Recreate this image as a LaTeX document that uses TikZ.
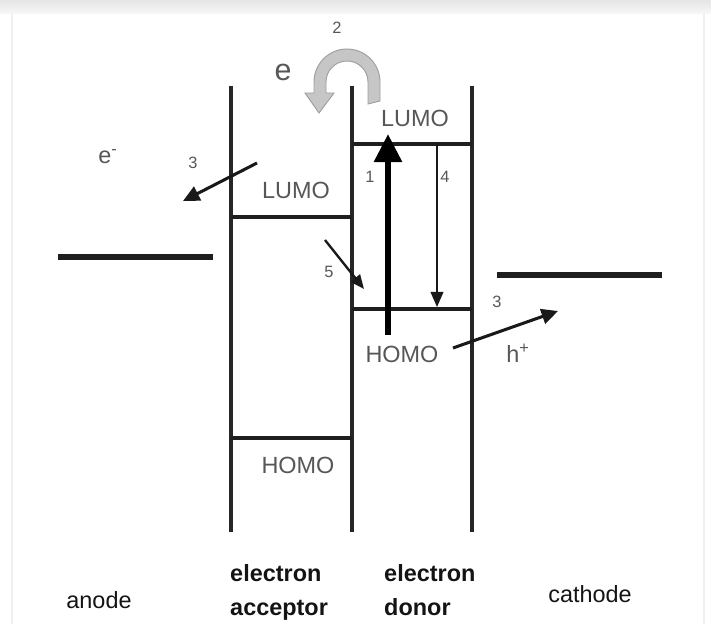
\documentclass[tikz,border=0pt]{standalone}
\usepackage{fontspec}
\setmainfont{Liberation Sans}
\usetikzlibrary{positioning, arrows.meta}

\begin{document}
\begin{tikzpicture}[
		x=0.03cm, y=-0.03cm,
		every node/.style={inner sep=0pt, text=black!66, font=\fontsize{20}{29}\selectfont},
		wall/.style={line width=2.8pt, draw=black!85},
		level/.style={line width=2.8pt, draw=black!88},
		metal/.style={line width=4.4pt, draw=black!88},
		arrow/.style={-{Triangle[length=14pt, width=13pt]}, line width=2.6pt, draw=black!90},
		num/.style={font=\fontsize{14}{16}\selectfont},
		sidename/.style={text=black!92, align=left}
	]
	\useasboundingbox (0,0) rectangle (711,624);

	% Frame
	\shade[top color=gray!20, bottom color=gray!6] (0,0) rectangle (711,14);
	\draw[gray!12, line width=1pt] (12,14) -- (12,624) (704,14) -- (704,624);

	% Walls and levels
	\draw[wall] (231,86) -- (231,532);
	\draw[wall] (352,86) -- (352,532);
	\draw[wall] (472,86) -- (472,532);
	\draw[level] (231,217) -- (352,217);
	\draw[level] (231,438) -- (352,438);
	\draw[level] (352,144) -- (472,144);
	\draw[level] (352,309) -- (472,309);
	\draw[metal] (58,257) -- (213,257);
	\draw[metal] (497,275) -- (662,275);

	% Nodes
	\node (accLumo) at (296,190) {LUMO};
	\node (accHomo) at (298,465) {HOMO};
	\node (donLumo) at (415,118) {LUMO};
	\node (donHomo) at (402,354) {HOMO};
	\node (elec) at (108,157) {e\textsuperscript{-}};
	\node[font=\fontsize{26}{28}\selectfont] (eTop) at (283,72) {e};
	\node (hole) at (518,353) {h\textsuperscript{+}};
	\node[num] (n1) at (370,177) {1};
	\node[num] (n2) at (337,28) {2};
	\node[num] (n3l) at (193,163) {3};
	\node[num] (n3r) at (497,302) {3};
	\node[num] (n4) at (445,177) {4};
	\node[num] (n5) at (329,272) {5};
	\node[sidename] (anode) at (99,600) {anode};
	\node[sidename] (cathode) at (590,594) {cathode};
	\node[sidename, font=\bfseries\fontsize{20}{29}\selectfont, anchor=north west] (acceptor) at (230,564) {electron\\acceptor};
	\node[sidename, font=\bfseries\fontsize{20}{29}\selectfont, anchor=north west] (donor) at (384,564) {electron\\donor};

	\coordinate (exBot) at (388,335);
	\coordinate (exTop) at (388,134);
	\coordinate (reTop) at (437,144);
	\coordinate (reBot) at (437,307);
	\coordinate (outA) at (257,163);
	\coordinate (outB) at (183,201);
	\coordinate (inA) at (325,240);
	\coordinate (inB) at (364,289);
	\coordinate (holeA) at (453,348);
	\coordinate (holeB) at (558,311);

	% Connections
	\draw[-{Triangle[length=24pt, width=23pt]}, line width=5.2pt, draw=black] (exBot) -- (exTop);
	\draw[-{Triangle[length=13pt, width=11pt]}, line width=1.4pt, draw=black!90] (reTop) -- (reBot);
	\draw[arrow] (outA) -- (outB);
	\draw[arrow, -{Triangle[length=12pt, width=10pt]}, line width=2pt] (inA) -- (inB);
	\draw[arrow] (holeA) -- (holeB);

	% Transfer
	\filldraw[fill=gray!45, draw=gray!75, line width=0.8pt]
		(368,104) -- (380,101) -- (380,82)
		.. controls (380,63.8) and (365.2,49) .. (347,49)
		.. controls (328.8,49) and (314,63.8) .. (314,82)
		-- (314,93) -- (305,93) -- (319,113) -- (334,93) -- (326,93) -- (326,82)
		.. controls (326,70.4) and (335.4,61) .. (347,61)
		.. controls (358.6,61) and (368,70.4) .. (368,82) -- cycle;

\end{tikzpicture}
\end{document}
